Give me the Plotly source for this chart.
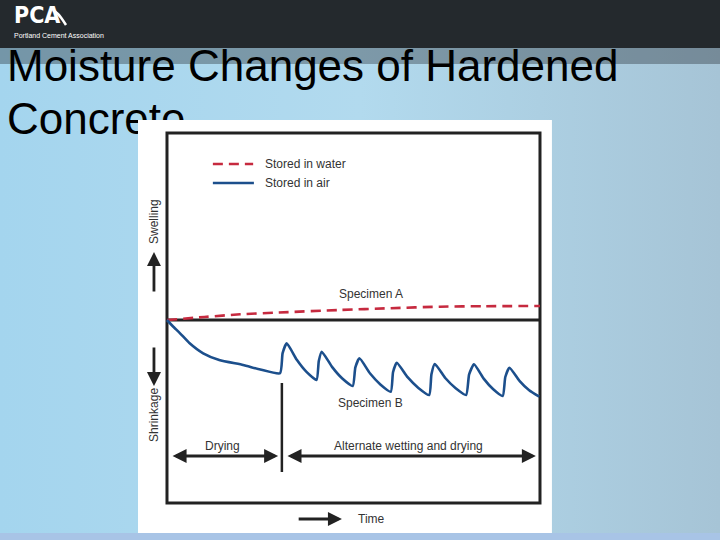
import plotly.graph_objects as go

# ---------------- data (arbitrary units) ----------------
time_A = [0, 10, 19.6, 30, 46.4, 60, 73.2, 85, 100]
swell_A = [0, 0.3, 0.57, 0.75, 1.0, 1.18, 1.33, 1.38, 1.4]

time_B = [0, 1.5, 3.5, 6, 9.7, 14, 20.4, 25, 30.3,
          31.0, 32.1, 34.8, 37.4, 40.1,
          40.7, 41.5, 44.3, 47.0, 49.8,
          50.5, 51.6, 54.4, 57.2, 60.0,
          60.6, 61.6, 64.5, 67.4, 70.3,
          70.9, 71.8, 74.6, 77.4, 80.2,
          81.0, 82.3, 84.9, 87.4, 90.0,
          90.7, 91.8, 94.5, 97.1, 99.8]
strain_B = [0, -0.6, -1.33, -2.3, -3.33, -4.0, -4.5, -4.95, -5.33,
            -3.32, -2.33, -3.98, -5.19, -6.0,
            -4.1, -3.17, -4.71, -5.85, -6.6,
            -4.74, -3.83, -5.33, -6.44, -7.17,
            -5.23, -4.27, -5.72, -6.79, -7.5,
            -5.42, -4.4, -5.8, -6.82, -7.5,
            -5.44, -4.43, -5.86, -6.90, -7.6,
            -5.7, -4.77, -6.08, -7.03, -7.67]

series_names = ["Stored in water", "Stored in air"]
title_lines = ["Moisture Changes of Hardened", "Concrete"]
phase_labels = ["Drying", "Alternate wetting and drying"]
phase_bounds = [0, 30.8, 100]

RED = "#C62A3F"
BLUE = "#1C4F8C"
INK = "#222222"
TXT = "#333333"
FONT = "Liberation Sans, Arial, sans-serif"

fig = go.Figure()

# ---------------- slide (page subplot x/y in pixel units) ----------------
fig.add_trace(go.Scatter(
    x=[0, 720, 720, 0, 0], y=[0, 0, 540, 540, 0], mode="lines",
    line=dict(width=0), fill="toself",
    fillgradient=dict(type="horizontal",
                      colorscale=[[0, "#A4D5EE"], [0.5, "#B2DAEE"], [1, "#A6C4D6"]]),
    hoverinfo="skip", showlegend=False, xaxis="x", yaxis="y"))
fig.add_trace(go.Scatter(
    x=[0, 720, 720, 0, 0], y=[0, 0, 48, 48, 0], mode="lines",
    line=dict(width=0), fill="toself", fillcolor="#24292D",
    hoverinfo="skip", showlegend=False, xaxis="x", yaxis="y"))
fig.add_trace(go.Scatter(
    x=[0, 720, 720, 0, 0], y=[48, 48, 64, 64, 48], mode="lines",
    line=dict(width=0), fill="toself", fillcolor="rgba(40,48,56,0.38)",
    hoverinfo="skip", showlegend=False, xaxis="x", yaxis="y"))
fig.add_trace(go.Scatter(
    x=[0, 720, 720, 0, 0], y=[533, 533, 540, 540, 533], mode="lines",
    line=dict(width=0), fill="toself", fillcolor="#A8C4E6",
    hoverinfo="skip", showlegend=False, xaxis="x", yaxis="y"))
# logo
fig.add_trace(go.Scatter(
    x=[14], y=[17], mode="text", text=["PCA"], textposition="middle right",
    textfont=dict(family="DejaVu Sans Condensed, Liberation Sans Narrow, Arial",
                  size=23, color="white", weight="bold"),
    cliponaxis=False, hoverinfo="skip", showlegend=False, xaxis="x", yaxis="y"))
fig.add_trace(go.Scatter(
    x=[53, 58, 62, 66], y=[10, 14, 19, 25], mode="lines",
    line=dict(color="white", width=2.5, shape="spline"),
    hoverinfo="skip", showlegend=False, xaxis="x", yaxis="y"))
fig.add_trace(go.Scatter(
    x=[14], y=[36], mode="text", text=["Portland Cement Association"],
    textposition="middle right",
    textfont=dict(family=FONT, size=7, color="white"),
    cliponaxis=False, hoverinfo="skip", showlegend=False, xaxis="x", yaxis="y"))
# title (two lines, behind the picture panel)
for ty, line in zip([70, 123], title_lines):
    fig.add_trace(go.Scatter(
        x=[7], y=[ty], mode="text", text=[line], textposition="middle right",
        textfont=dict(family=FONT, size=44, color="black"),
        cliponaxis=False, hoverinfo="skip", showlegend=False, xaxis="x", yaxis="y"))

# ---------------- chart (x2/y2) ----------------
fig.add_trace(go.Scatter(
    x=time_A, y=swell_A, mode="lines", name=series_names[0],
    line=dict(color=RED, width=2.6, dash="10px,6px", shape="spline", smoothing=0.8),
    hoverinfo="skip", showlegend=False, xaxis="x2", yaxis="y2"))
fig.add_trace(go.Scatter(
    x=time_B, y=strain_B, mode="lines", name=series_names[1],
    line=dict(color=BLUE, width=2.6, shape="spline", smoothing=0.5),
    hoverinfo="skip", showlegend=False, xaxis="x2", yaxis="y2"))
# hand-drawn legend inside the box
fig.add_trace(go.Scatter(
    x=[12.3, 23.1], y=[15.6, 15.6], mode="lines",
    line=dict(color=RED, width=2.6, dash="10px,6px"),
    hoverinfo="skip", showlegend=False, xaxis="x2", yaxis="y2"))
fig.add_trace(go.Scatter(
    x=[12.3, 23.3], y=[13.7, 13.7], mode="lines",
    line=dict(color=BLUE, width=2.6),
    hoverinfo="skip", showlegend=False, xaxis="x2", yaxis="y2"))

shapes = [
    # white picture panel (in x2/y2 layer -> covers the slide title)
    dict(type="rect", xref="x2", yref="y2", x0=-7.77, x1=103.2, y0=-21.3, y1=20.0,
         fillcolor="white", line=dict(width=0), layer="below"),
    # chart frame
    dict(type="rect", xref="x2", yref="y2", x0=0, x1=100, y0=-18.3, y1=18.7,
         fillcolor="rgba(0,0,0,0)", line=dict(color=INK, width=3), layer="below"),
    # zero line
    dict(type="line", xref="x2", yref="y2", x0=0, x1=100, y0=0, y1=0,
         line=dict(color=INK, width=3), layer="below"),
    # phase divider
    dict(type="line", xref="x2", yref="y2", x0=phase_bounds[1], x1=phase_bounds[1],
         y0=-6.3, y1=-15.2, line=dict(color=INK, width=2.5), layer="below"),
]

ann = []
def label(x, y, text, **kw):
    d = dict(xref="x2", yref="y2", x=x, y=y, text=text, showarrow=False,
             font=dict(family=FONT, size=12, color=TXT))
    d.update(kw)
    ann.append(d)

def arrow(x0, y0, x1, y1, both=False):
    ann.append(dict(xref="x2", yref="y2", axref="x2", ayref="y2",
                    x=x1, y=y1, ax=x0, ay=y0, text="", showarrow=True,
                    arrowhead=2, arrowsize=1, arrowwidth=2.8, arrowcolor=INK,
                    arrowside="end+start" if both else "end",
                    standoff=0, startstandoff=0))

label(25.7, 15.6, series_names[0], xanchor="left")
label(25.7, 13.7, series_names[1], xanchor="left")
label(54.6, 2.6, "Specimen A")
label(54.6, -8.27, "Specimen B")
label(14.9, -12.57, phase_labels[0])
label(64.7, -12.57, phase_labels[1])
label(-3.49, 9.9, "Swelling", textangle=-90)
label(-3.49, -9.5, "Shrinkage", textangle=-90)
label(50.7, -19.9, "Time", xanchor="left")

arrow(1.1, -13.6, 29.8, -13.6, both=True)
arrow(31.9, -13.6, 98.9, -13.6, both=True)
arrow(-3.49, 2.7, -3.49, 6.8)
arrow(-3.49, -2.6, -3.49, -6.6)
arrow(34.9, -19.9, 46.9, -19.9)

hidden = dict(visible=False, showgrid=False, zeroline=False, fixedrange=True)
fig.update_layout(
    width=720, height=540,
    margin=dict(l=0, r=0, t=0, b=0),
    paper_bgcolor="#A8D6EE", plot_bgcolor="rgba(0,0,0,0)",
    xaxis=dict(domain=[0, 1], range=[0, 720], anchor="y", **hidden),
    yaxis=dict(domain=[0, 1], range=[540, 0], anchor="x", **hidden),
    xaxis2=dict(domain=[0, 1], range=[-44.77, 148.26], anchor="y2", **hidden),
    yaxis2=dict(domain=[0, 1], range=[-22, 32], anchor="x2", **hidden),
    shapes=shapes, annotations=ann, showlegend=False,
)

fig.write_html("out.html", config={"displayModeBar": False},
               post_script="document.body.style.margin='0';document.body.style.overflow='hidden';")
